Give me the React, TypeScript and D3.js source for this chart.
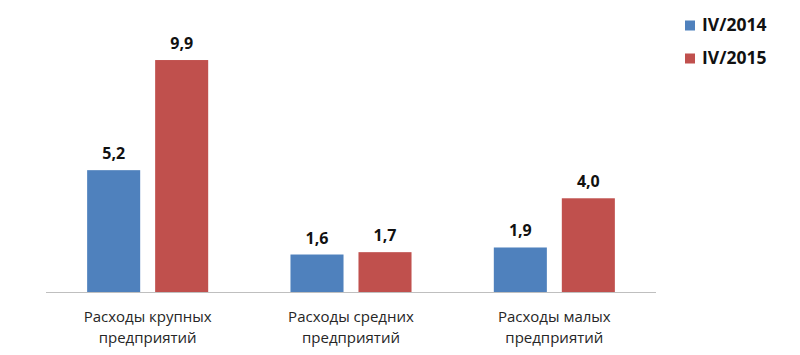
import * as d3 from "d3";

const categories = [
  ["Расходы крупных", "предприятий"],
  ["Расходы средних", "предприятий"],
  ["Расходы малых", "предприятий"],
];
const seriesNames = ["IV/2014", "IV/2015"];
const values2014 = [5.2, 1.6, 1.9];
const values2015 = [9.9, 1.7, 4.0];
const colors = ["#4F81BD", "#C0504D"];

const W = 800;
const H = 355;
const margin = { left: 46, right: 144, top: 10, bottom: 63 };

export default function App() {
  const keys = categories.map((c) => c.join(" "));
  const x0 = d3
    .scaleBand<string>()
    .domain(keys)
    .range([margin.left, W - margin.right])
    .padding(0);
  const x1 = d3
    .scaleBand<string>()
    .domain(seriesNames)
    .range([0, x0.bandwidth()])
    .paddingInner(0.22)
    .paddingOuter(0.605);
  const y = d3.scaleLinear().domain([0, 10]).range([H - margin.bottom, 57.7]);
  const series = [values2014, values2015];
  const fmt = (v: number) => v.toFixed(1).replace(".", ",");
  const font = "Open Sans, Liberation Sans, sans-serif";

  return (
    <svg width={W} height={H} style={{ position: "absolute", left: 0, top: 0, background: "#fff" }}>
      {keys.map((k, i) => (
        <g key={k} transform={`translate(${x0(k)},0)`}>
          {seriesNames.map((s, j) => {
            const v = series[j][i];
            const bx = x1(s)!;
            return (
              <g key={s}>
                <rect
                  x={bx}
                  y={y(v)}
                  width={x1.bandwidth()}
                  height={y(0) - y(v)}
                  fill={colors[j]}
                />
                <text
                  x={bx + x1.bandwidth() / 2}
                  y={y(v) - 11}
                  textAnchor="middle"
                  fontFamily={font}
                  fontWeight="bold"
                  fontSize={16}
                  fill="#111"
                >
                  {fmt(v)}
                </text>
              </g>
            );
          })}
          {categories[i].map((line, li) => (
            <text
              key={li}
              x={x0.bandwidth() / 2}
              y={y(0) + 30 + li * 21}
              textAnchor="middle"
              fontFamily={font}
              fontSize={15}
              fill="#262626"
            >
              {line}
            </text>
          ))}
        </g>
      ))}
      <line
        x1={margin.left}
        x2={W - margin.right}
        y1={y(0) + 0.5}
        y2={y(0) + 0.5}
        stroke="#BFBFBF"
      />
      {seriesNames.map((s, j) => (
        <g key={s} transform={`translate(685,${25 + j * 33})`}>
          <rect x={0} y={-4.5} width={10} height={10} fill={colors[j]} />
          <text
            x={17}
            y={0}
            dy="0.35em"
            fontFamily={font}
            fontWeight="bold"
            fontSize={17.5}
            fill="#111"
          >
            {s}
          </text>
        </g>
      ))}
    </svg>
  );
}
